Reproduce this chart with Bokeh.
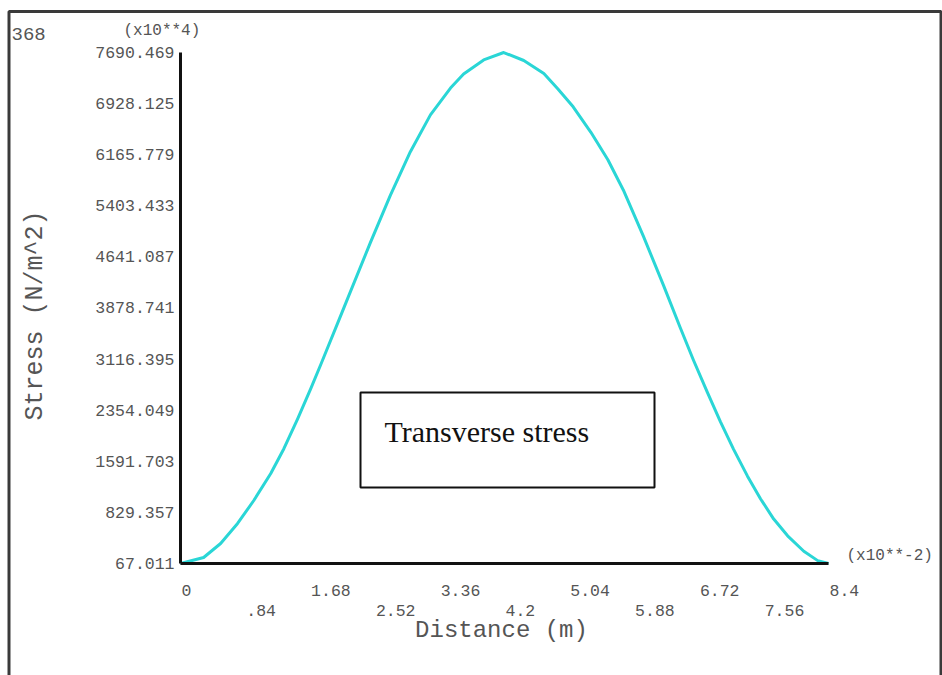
from math import pi
from bokeh.plotting import figure
from bokeh.models import (Range1d, LinearAxis, FixedTicker, PrintfTickFormatter,
                          ColumnDataSource, LabelSet, Label, BoxAnnotation)
from bokeh.core.properties import value
from bokeh.embed import file_html
from bokeh.resources import INLINE

# ---------------- data ----------------
# distance in units of 10^-2 m, stress in units of 10^4 N/m^2
DIST = [0.0, 0.30, 0.52, 0.74, 0.95, 1.17, 1.34, 1.52, 1.69, 1.82, 2.04, 2.17,
        2.46, 2.72, 2.98, 3.24, 3.50, 3.67, 3.93, 4.19, 4.45, 4.71, 4.89, 5.09,
        5.32, 5.54, 5.74, 6.00, 6.26, 6.48, 6.65, 6.83, 7.00, 7.17, 7.35, 7.52,
        7.69, 7.87, 8.08, 8.26, 8.40]
STRESS = [67.0, 157, 365, 664, 1007, 1410, 1780, 2230, 2680, 3040, 3660, 4030,
          4850, 5560, 6210, 6760, 7160, 7370, 7580, 7690, 7571, 7377, 7150, 6880,
          6500, 6090, 5640, 4950, 4220, 3580, 3100, 2620, 2180, 1770, 1370, 1030,
          730, 480, 250, 110, 67.0]

Y_TICKS = [67.011, 829.357, 1591.703, 2354.049, 3116.395, 3878.741,
           4641.087, 5403.433, 6165.779, 6928.125, 7690.469]
X_TICKS = [0, 0.84, 1.68, 2.52, 3.36, 4.2, 5.04, 5.88, 6.72, 7.56, 8.4]
X_TICK_LABELS = ["0", ".84", "1.68", "2.52", "3.36", "4.2",
                 "5.04", "5.88", "6.72", "7.56", "8.4"]
X_TITLE = "Distance (m)"
Y_TITLE = "Stress (N/m^2)"
X_EXP = "(x10**-2)"
Y_EXP = "(x10**4)"
NOTE = "Transverse stress"
CORNER = "368"

# ---------------- layout ----------------
W, H = 942, 675
LEFT, BOTTOM = 180, 563          # pixel position of the axes' origin
AX_LEN_X, AX_LEN_Y = 648, 511    # pixel length of the axes
x0, x1 = X_TICKS[0], X_TICKS[-1]
y0, y1 = Y_TICKS[0], Y_TICKS[-1]
ppx = AX_LEN_X / (x1 - x0)
ppy = AX_LEN_Y / (y1 - y0)


def xd(px):
    return x0 + (px - LEFT) / ppx


def yd(py):
    return y0 + (BOTTOM - py) / ppy


MONO = "Liberation Mono"
TXT = "#555555"

p = figure(width=W, height=H, output_backend="svg", toolbar_location=None,
           x_range=Range1d(xd(0), xd(W)), y_range=Range1d(yd(H), yd(0)),
           x_axis_type=None, y_axis_type=None, min_border=0)
p.outline_line_color = None
p.background_fill_color = "white"
p.border_fill_color = "white"

# curve
p.line(DIST, STRESS, line_color="#2ad6d6", line_width=3, line_join="round")

# y axis, pinned at distance 0
yax = LinearAxis(ticker=FixedTicker(ticks=Y_TICKS),
                 formatter=PrintfTickFormatter(format="%.3f"),
                 bounds=(y0, y1), fixed_location=x0)
yax.axis_line_width = 3
yax.axis_line_color = "#111111"
yax.major_tick_in = 0
yax.major_tick_out = 0
yax.minor_tick_in = 0
yax.minor_tick_out = 0
yax.major_label_text_font = MONO
yax.major_label_text_font_size = "16.5px"
yax.major_label_text_color = TXT
yax.major_label_standoff = 6
p.add_layout(yax, "left")

# x axis, pinned at the lowest stress tick (line only; labels are staggered)
xax = LinearAxis(ticker=FixedTicker(ticks=[]), bounds=(x0, x1), fixed_location=y0)
xax.axis_line_width = 3
xax.axis_line_color = "#111111"
xax.major_tick_in = 0
xax.major_tick_out = 0
xax.minor_tick_in = 0
xax.minor_tick_out = 0
p.add_layout(xax, "below")

row_y = [yd(590) if i % 2 == 0 else yd(610) for i in range(len(X_TICKS))]
tick_src = ColumnDataSource(dict(x=X_TICKS, y=row_y, text=X_TICK_LABELS))
p.add_layout(LabelSet(x="x", y="y", text="text", source=tick_src,
                      text_align="left", text_baseline="middle", x_offset=1,
                      text_font=value(MONO), text_font_size=value("16.5px"),
                      text_color=TXT))

# titles / exponent notes
p.add_layout(Label(x=xd(501), y=yd(630), text=X_TITLE, text_align="center",
                   text_baseline="middle", text_font=MONO,
                   text_font_size="24px", text_color=TXT))
p.add_layout(Label(x=xd(35), y=yd(315), text=Y_TITLE, angle=pi / 2,
                   text_align="center", text_baseline="middle",
                   text_font=MONO, text_font_size="25px", text_color=TXT))
p.add_layout(Label(x=xd(123), y=yd(30), text=Y_EXP, text_align="left",
                   text_baseline="middle", text_font=MONO,
                   text_font_size="16px", text_color=TXT))
p.add_layout(Label(x=xd(846), y=yd(555), text=X_EXP, text_align="left",
                   text_baseline="middle", text_font=MONO,
                   text_font_size="16px", text_color=TXT))
p.add_layout(Label(x=xd(11), y=yd(33), text=CORNER, text_align="left",
                   text_baseline="middle", text_font=MONO,
                   text_font_size="19px", text_color=TXT))

# note box
p.add_layout(BoxAnnotation(left=xd(360), right=xd(654), top=yd(392), bottom=yd(487),
                           fill_color="white", fill_alpha=1.0,
                           line_color="#111111", line_width=2, line_alpha=1.0))
p.add_layout(Label(x=xd(384), y=yd(431), text=NOTE, text_align="left",
                   text_baseline="middle", text_font="Liberation Serif",
                   text_font_size="30px", text_color="#111111"))

# outer frame (open at the bottom)
p.add_layout(BoxAnnotation(left=xd(8.5), right=xd(940.5), top=yd(11), bottom=yd(H + 30),
                           fill_color=None, fill_alpha=0.0,
                           line_color="#3a3a3a", line_width=3, line_alpha=1.0,
                           level="overlay"))

open("out.html", "w").write(file_html(p, INLINE))
